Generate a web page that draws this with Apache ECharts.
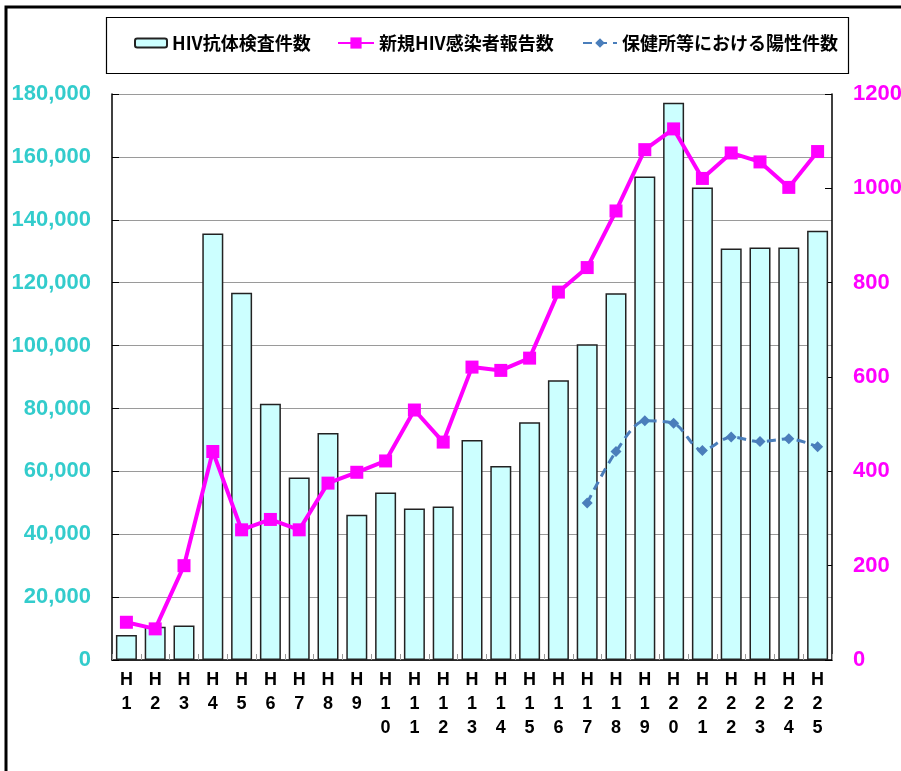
<!DOCTYPE html>
<html>
<head>
<meta charset="utf-8">
<script src="https://cdn.jsdelivr.net/npm/echarts@6/dist/echarts.min.js"></script>
<style>
html,body{margin:0;padding:0;background:#fff;}
#chart{width:901px;height:771px;}
</style>
</head>
<body>
<div id="chart"></div>
<script>
// ---- data ----
const categories = ["H1","H2","H3","H4","H5","H6","H7","H8","H9","H10","H11","H12","H13","H14","H15","H16","H17","H18","H19","H20","H21","H22","H23","H24","H25"];
const testCounts = [7950, 10600, 11000, 135600, 116800, 81500, 58000, 72200, 46200, 53300, 48200, 48800, 70000, 61700, 75600, 89000, 100400, 116600, 153800, 177200, 150300, 130900, 131200, 131200, 136500];
const newHivReports = [80, 66, 200, 442, 276, 298, 276, 375, 398, 422, 530, 462, 621, 614, 640, 780, 832, 952, 1082, 1126, 1021, 1075, 1056, 1002, 1078];
const healthCenterPositives = [null, null, null, null, null, null, null, null, null, null, null, null, null, null, null, null, 333, 442, 507, 502, 444, 473, 463, 469, 452];
const seriesNames = ["HIV抗体検査件数", "新規HIV感染者報告数", "保健所等における陽性件数"];
const leftTicks = {min: 0, max: 180000, interval: 20000};
const rightTicks = {min: 0, max: 1200, interval: 200};

const chart = echarts.init(document.getElementById('chart'), null, {renderer: 'canvas'});
const legendText = {fontFamily: '"Noto Sans CJK JP", sans-serif', fontWeight: 'bold', fontSize: 18, color: '#000'};

const option = {
  backgroundColor: '#fff',
  animation: false,
  graphic: [
    {type: 'rect', shape: {x: 6, y: 7, width: 1000, height: 1000}, style: {fill: 'none', stroke: '#000', lineWidth: 3}, silent: true},
    {type: 'rect', shape: {x: 106.5, y: 17.5, width: 742, height: 56}, style: {fill: 'none', stroke: '#000', lineWidth: 1.2}, silent: true}
  ],
  legend: [
    {data: [seriesNames[0]], left: 134, top: 34, itemWidth: 32, itemHeight: 9, itemGap: 4, textStyle: legendText, padding: 0},
    {data: [seriesNames[1]], left: 337, top: 34, itemWidth: 36, itemHeight: 14, textStyle: legendText, padding: 0},
    {data: [seriesNames[2]], left: 582, top: 34, itemWidth: 34, itemHeight: 12, textStyle: legendText, padding: 0}
  ],
  grid: {left: 112, top: 94, width: 720, height: 566, containLabel: false, outerBoundsMode: 'none'},
  xAxis: {
    type: 'category',
    data: categories,
    boundaryGap: true,
    axisLine: {show: true, lineStyle: {color: '#000', width: 1.5}},
    axisTick: {show: true, inside: true, length: 6, lineStyle: {color: '#999'}},
    axisLabel: {
      interval: 0,
      margin: 8,
      color: '#000',
      fontFamily: '"Liberation Sans", Arial, sans-serif',
      fontWeight: 'bold',
      fontSize: 18,
      lineHeight: 24,
      formatter: v => v.split('').join('\n')
    }
  },
  yAxis: [
    {
      type: 'value',
      min: leftTicks.min, max: leftTicks.max, interval: leftTicks.interval,
      axisLine: {show: true, lineStyle: {color: '#000', width: 1.5}},
      axisTick: {show: true, inside: true, length: 7, lineStyle: {color: '#000'}},
      splitLine: {show: true, lineStyle: {color: '#9a9a9a', width: 1}},
      axisLabel: {
        margin: 21, color: '#33CCCC',
        fontFamily: '"Liberation Sans", Arial, sans-serif', fontWeight: 'bold', fontSize: 22,
        formatter: v => v.toLocaleString('en-US')
      }
    },
    {
      type: 'value',
      position: 'right',
      min: rightTicks.min, max: rightTicks.max, interval: rightTicks.interval,
      axisLine: {show: true, lineStyle: {color: '#000', width: 1.5}},
      axisTick: {show: true, inside: true, length: 7, lineStyle: {color: '#000'}},
      splitLine: {show: false},
      axisLabel: {
        margin: 21, color: '#FF00FF',
        fontFamily: '"Liberation Sans", Arial, sans-serif', fontWeight: 'bold', fontSize: 22,
        formatter: v => String(v)
      }
    }
  ],
  series: [
    {
      name: seriesNames[0],
      type: 'bar',
      yAxisIndex: 0,
      data: testCounts,
      barWidth: 21,
      itemStyle: {color: '#CCFFFF', borderColor: '#222', borderWidth: 1.5},
      z: 2
    },
    {
      name: seriesNames[1],
      type: 'line',
      yAxisIndex: 1,
      data: newHivReports,
      symbol: 'rect',
      symbolSize: 13,
      itemStyle: {color: '#FF00FF'},
      lineStyle: {color: '#FF00FF', width: 4},
      z: 4
    },
    {
      name: seriesNames[2],
      type: 'line',
      yAxisIndex: 1,
      data: healthCenterPositives,
      symbol: 'diamond',
      symbolSize: 11,
      smooth: 0.3,
      itemStyle: {color: '#4A7EBB'},
      lineStyle: {color: '#4A7EBB', width: 3, type: [9, 6]},
      z: 3
    }
  ]
};
chart.setOption(option);
</script>
</body>
</html>
